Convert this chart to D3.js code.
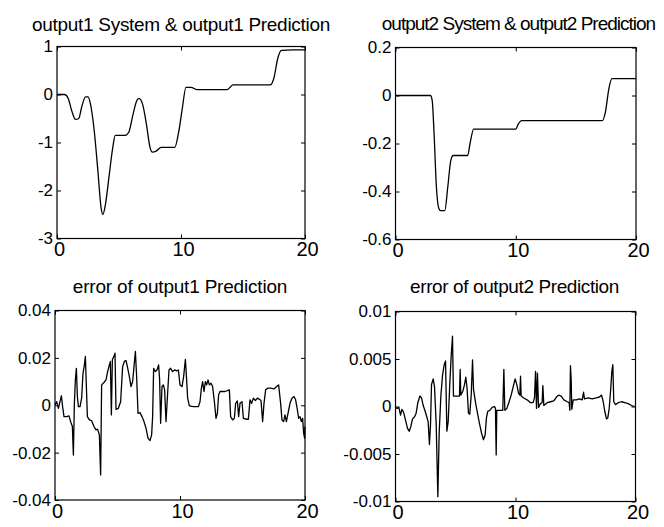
<!DOCTYPE html>
<html>
<head>
<meta charset="utf-8">
<script src="https://cdn.jsdelivr.net/npm/d3@7"></script>
<style>
  html, body { margin: 0; padding: 0; background: #fff; }
  svg { display: block; }
  .title { font-family: "Liberation Sans", Arial, sans-serif; font-size: 19px; fill: #000; }
  .ytick text { font-family: "Liberation Sans", Arial, sans-serif; font-size: 17px; fill: #000; }
  .xtick text { font-family: "Liberation Sans", Arial, sans-serif; font-size: 20px; fill: #000; }
</style>
</head>
<body>
<svg id="chart" width="664" height="527"></svg>
<script>
// ---- data ----
const titles = [
  "output1 System & output1 Prediction",
  "output2 System & output2 Prediction",
  "error of output1 Prediction",
  "error of output2 Prediction"
];
const xTicks = [0, 10, 20];
const yTicks1 = [-3, -2, -1, 0, 1];
const yTicks2 = [-0.6, -0.4, -0.2, 0, 0.2];
const yTicks3 = [-0.04, -0.02, 0, 0.02, 0.04];
const yTicks4 = [-0.01, -0.005, 0, 0.005, 0.01];

// output1 response (time, value)
const output1 = [
  [0,0],[0.6,0],[0.9,-0.08],[1.2,-0.35],[1.5,-0.52],[1.75,-0.5],[2.0,-0.25],[2.3,-0.05],
  [2.5,-0.05],[2.7,-0.2],[3.0,-0.75],[3.3,-1.6],[3.55,-2.35],[3.7,-2.5],[3.9,-2.3],
  [4.2,-1.7],[4.5,-1.1],[4.7,-0.85],[5.0,-0.85],[5.5,-0.85],[5.8,-0.78],[6.1,-0.45],
  [6.4,-0.15],[6.6,-0.08],[6.9,-0.2],[7.2,-0.6],[7.5,-1.1],[7.7,-1.2],[8.0,-1.18],
  [8.4,-1.1],[8.8,-1.1],[9.5,-1.1],[9.8,-0.8],[10.1,-0.3],[10.4,0.15],[10.8,0.15],
  [11.3,0.1],[12.5,0.1],[13.7,0.1],[14.2,0.2],[15,0.2],[17.2,0.2],[17.5,0.35],
  [17.8,0.75],[18.1,0.92],[19,0.93],[20,0.93]
];

// output2 response (time, value)
const output2 = [
  [0,0],[2.9,0],[3.05,-0.02],[3.2,-0.15],[3.4,-0.38],[3.6,-0.47],[3.75,-0.48],[4.1,-0.48],
  [4.35,-0.38],[4.6,-0.27],[4.8,-0.25],[6.0,-0.25],[6.2,-0.2],[6.5,-0.14],[10.0,-0.14],
  [10.2,-0.12],[10.5,-0.105],[17.2,-0.105],[17.45,-0.07],[17.75,0.03],[18.0,0.07],[20,0.07]
];

// prediction error of output1 (time, error)
const error1 = [
  [0,0.0001],[0.13,0.0015],[0.27,-0.0013],[0.4,0.0015],[0.51,0.004],[0.61,-0.0006],
  [0.72,-0.0048],[0.93,-0.0048],[1.12,-0.0045],[1.25,-0.0069],[1.39,-0.009],[1.47,-0.021],
  [1.55,0.0008],[1.63,0.0107],[1.71,0.0156],[1.79,0.0037],[1.87,-0.0006],[2.0,-0.0006],
  [2.13,0.003],[2.24,0.0135],[2.35,0.017],[2.43,0.0206],[2.51,0.0079],[2.59,-0.0048],
  [2.75,-0.0062],[2.93,-0.0065],[3.12,-0.009],[3.28,-0.0104],[3.41,-0.0101],[3.55,-0.0125],
  [3.65,-0.0294],[3.73,0.0086],[3.92,0.0096],[4.08,0.0107],[4.21,0.0142],[4.35,0.017],
  [4.43,0.0185],[4.51,-0.0041],[4.59,0.0192],[4.72,0.0208],[4.8,0.022],[4.88,-0.0017],
  [5.07,-0.0013],[5.25,0.0015],[5.41,0.0163],[5.55,0.0185],[5.68,0.0189],[5.79,0.0163],
  [5.95,0.0121],[6.08,0.0079],[6.21,0.01],[6.32,0.0163],[6.43,0.0227],[6.53,0.0121],
  [6.64,-0.0034],[6.8,-0.0031],[6.96,-0.0048],[7.12,-0.0069],[7.28,-0.0097],[7.44,-0.0139],
  [7.6,-0.0149],[7.73,-0.0125],[7.81,-0.0048],[7.89,0.0156],[8.03,0.0142],[8.16,0.0149],
  [8.29,0.017],[8.37,0.0107],[8.45,-0.0076],[8.56,0.0079],[8.67,0.0086],[8.77,0.0065],
  [8.88,-0.0069],[9.01,0.0051],[9.12,0.0149],[9.25,0.0156],[9.41,0.0142],[9.57,0.0149],
  [9.73,0.0145],[9.87,0.0149],[10.0,0.0086],[10.16,0.0079],[10.29,0.0121],[10.43,0.0194],
  [10.53,0.0107],[10.61,0.003],[10.75,-0.0003],[11.07,-0.0006],[11.47,-0.0006],[11.6,0.0015],
  [11.71,0.0072],[11.81,0.01],[11.92,0.0058],[12.03,0.01],[12.13,0.0086],[12.24,0.0107],
  [12.35,0.0086],[12.48,0.0093],[12.61,0.0079],[12.75,0.0015],[12.88,-0.0055],[12.99,-0.0034],
  [13.09,0.0044],[13.2,0.0058],[13.6,0.0058],[13.95,0.0065],[14.05,-0.0048],[14.21,-0.0062],
  [14.35,-0.0055],[14.45,0.0008],[14.59,0.0018],[14.69,-0.0048],[14.8,0.0008],[14.96,0.0015],
  [15.07,-0.0055],[15.28,-0.0059],[15.47,-0.0059],[15.6,0.0023],[15.73,0.0008],[15.87,0.003],
  [16.03,0.002],[16.19,0.003],[16.35,0.0025],[16.48,0.002],[16.61,-0.0069],[16.72,0.0008],
  [16.85,0.0065],[17.01,0.0072],[17.25,0.0072],[17.52,0.0069],[17.73,0.0079],[17.89,0.0086],
  [18.05,0.0008],[18.16,-0.0062],[18.29,-0.0069],[18.4,-0.0041],[18.51,-0.0069],[18.64,-0.0034],
  [18.8,0.0008],[18.96,0.003],[19.12,0.0037],[19.25,0.0023],[19.39,-0.002],[19.49,-0.0055],
  [19.6,-0.0048],[19.71,-0.0069],[19.81,-0.0055],[19.89,-0.0118],[19.97,-0.0139],[20,-0.009]
];

// prediction error of output2 (time, error)
const error2 = [
  [0,-0.0001],[0.14,-0.0002],[0.28,-0.0001],[0.42,-0.0009],[0.53,-0.0003],[0.67,-0.0006],
  [0.83,-0.0014],[1.0,-0.0023],[1.14,-0.0026],[1.28,-0.0021],[1.42,-0.0013],[1.58,-0.0011],
  [1.72,-0.0007],[1.86,0.0004],[2.03,0.0011],[2.17,0.0009],[2.31,0.0001],[2.47,-0.0005],
  [2.61,-0.0011],[2.72,-0.0016],[2.83,-0.004],[2.92,-0.0018],[3.0,0.0023],[3.14,0.0029],
  [3.25,0.0021],[3.39,-0.0018],[3.53,-0.0095],[3.64,-0.0028],[3.78,0.0011],[3.92,0.0033],
  [4.06,0.0044],[4.17,0.0048],[4.28,-0.0026],[4.39,-0.0016],[4.53,0.0025],[4.64,0.0053],
  [4.75,0.0074],[4.83,0.0011],[5.0,0.0011],[5.22,0.0011],[5.33,0.0011],[5.39,0.0039],
  [5.44,0.0012],[5.61,0.0016],[5.75,0.0023],[5.86,0.0031],[5.97,0.0018],[6.08,-0.0007],
  [6.19,-0.0008],[6.31,0.0012],[6.42,0.0049],[6.5,0.0018],[6.67,0.0004],[6.83,-0.0007],
  [7.0,-0.0018],[7.17,-0.0028],[7.33,-0.0035],[7.47,-0.003],[7.58,-0.0012],[7.69,-0.0005],
  [7.86,-0.0004],[8.06,-0.0001],[8.25,0],[8.33,-0.0002],[8.39,-0.0051],[8.44,-0.0004],
  [8.67,-0.0004],[8.94,-0.0004],[9.03,0.0039],[9.11,-0.0004],[9.28,-0.0002],[9.44,0.0004],
  [9.64,0.0012],[9.81,0.0021],[9.97,0.0029],[10.11,0.0023],[10.25,0.0014],[10.36,0.0012],
  [10.42,0.0032],[10.47,0.0011],[10.69,0.0009],[10.97,0.0007],[11.25,0.0004],[11.47,0.0004],
  [11.58,0.0009],[11.67,0.0037],[11.75,-0.0002],[11.83,0.0035],[11.92,-0.0001],[12.08,0.0003],
  [12.22,0.0004],[12.28,0.0022],[12.36,0.0001],[12.64,0.0004],[12.92,0.0005],[13.19,0.0006],
  [13.42,0.001],[13.61,0.0012],[13.81,0.0011],[14.03,0.0007],[14.31,0.0005],[14.47,0.0004],
  [14.53,-0.0004],[14.58,0.0043],[14.64,0.0028],[14.69,-0.0003],[14.81,0.0007],[15.06,0.0007],
  [15.33,0.0008],[15.56,0.0007],[15.67,0.0015],[15.75,0.0008],[16.06,0.0009],[16.39,0.0008],
  [16.72,0.0009],[17.0,0.001],[17.17,0.0012],[17.31,0.0005],[17.44,-0.0005],[17.58,-0.0013],
  [17.69,-0.0012],[17.81,-0.0002],[17.92,0.0016],[18.03,0.0037],[18.11,0.0044],[18.19,0.0005],
  [18.33,0.0002],[18.56,0.0004],[18.83,0.0005],[19.11,0.0004],[19.39,0.0003],[19.67,0.0001],
  [19.94,0]
];

// ---- layout ----
const panels = [
  { title: titles[0], series: output1, yTicks: yTicks1, box: [57, 46.5, 305, 238.5],  smooth: true,  titleX: 181,   titleY: 30.5,  spacing: -0.3 },
  { title: titles[1], series: output2, yTicks: yTicks2, box: [395.5, 47.5, 636, 239.5], smooth: true, titleX: 518.5, titleY: 29.5, spacing: -1.0 },
  { title: titles[2], series: error1,  yTicks: yTicks3, box: [55, 310.5, 305, 500],   smooth: false, titleX: 180,   titleY: 292.5, spacing: -0.2 },
  { title: titles[3], series: error2,  yTicks: yTicks4, box: [395.5, 311.5, 635.5, 501.5], smooth: false, titleX: 514.5, titleY: 293, spacing: -0.4 }
];

const svg = d3.select("#chart");
svg.append("rect").attr("width", 664).attr("height", 527).attr("fill", "#fff");

panels.forEach(p => {
  const [x0, y0, x1, y1] = p.box;
  const x = d3.scaleLinear().domain(d3.extent(xTicks)).range([x0, x1]);
  const y = d3.scaleLinear().domain(d3.extent(p.yTicks)).range([y1, y0]);
  const g = svg.append("g").attr("class", "panel");

  // plot line
  const line = d3.line()
    .x(d => x(d[0]))
    .y(d => y(d[1]))
    .curve(p.smooth ? d3.curveMonotoneX : d3.curveLinear);
  g.append("path")
    .datum(p.series)
    .attr("fill", "none")
    .attr("stroke", "#000")
    .attr("stroke-width", 1.3)
    .attr("stroke-linejoin", "round")
    .attr("d", line);

  // frame
  g.append("rect")
    .attr("x", x0).attr("y", y0)
    .attr("width", x1 - x0).attr("height", y1 - y0)
    .attr("fill", "none").attr("stroke", "#000").attr("stroke-width", 1.2);

  // left axis with inward ticks
  const ya = g.append("g").attr("class", "ytick")
    .attr("transform", `translate(${x0},0)`)
    .call(d3.axisLeft(y).tickValues(p.yTicks).tickFormat(d => String(d))
      .tickSizeInner(-4).tickSizeOuter(0).tickPadding(4));
  ya.select(".domain").remove();
  ya.selectAll("line").attr("stroke", "#000");

  // right axis tick marks
  const yr = g.append("g")
    .attr("transform", `translate(${x1},0)`)
    .call(d3.axisRight(y).tickValues(p.yTicks).tickFormat("").tickSizeInner(-4).tickSizeOuter(0));
  yr.select(".domain").remove();

  // bottom axis with inward ticks; labels sit slightly right of their ticks
  const xa = g.append("g").attr("class", "xtick")
    .attr("transform", `translate(0,${y1})`)
    .call(d3.axisBottom(x).tickValues(xTicks).tickFormat(d => String(d))
      .tickSizeInner(-4).tickSizeOuter(0).tickPadding(4));
  xa.select(".domain").remove();
  xa.selectAll("text").attr("dy", null).attr("y", 17.5).attr("x", 2).attr("dominant-baseline", "auto");
  xa.selectAll("line").attr("stroke", "#000");

  // top axis tick marks
  const xt = g.append("g")
    .attr("transform", `translate(0,${y0})`)
    .call(d3.axisTop(x).tickValues(xTicks).tickFormat("").tickSizeInner(-4).tickSizeOuter(0));
  xt.select(".domain").remove();

  // title
  g.append("text")
    .attr("class", "title")
    .attr("x", p.titleX)
    .attr("y", p.titleY)
    .attr("text-anchor", "middle")
    .style("letter-spacing", p.spacing + "px")
    .text(p.title);
});
</script>
</body>
</html>
